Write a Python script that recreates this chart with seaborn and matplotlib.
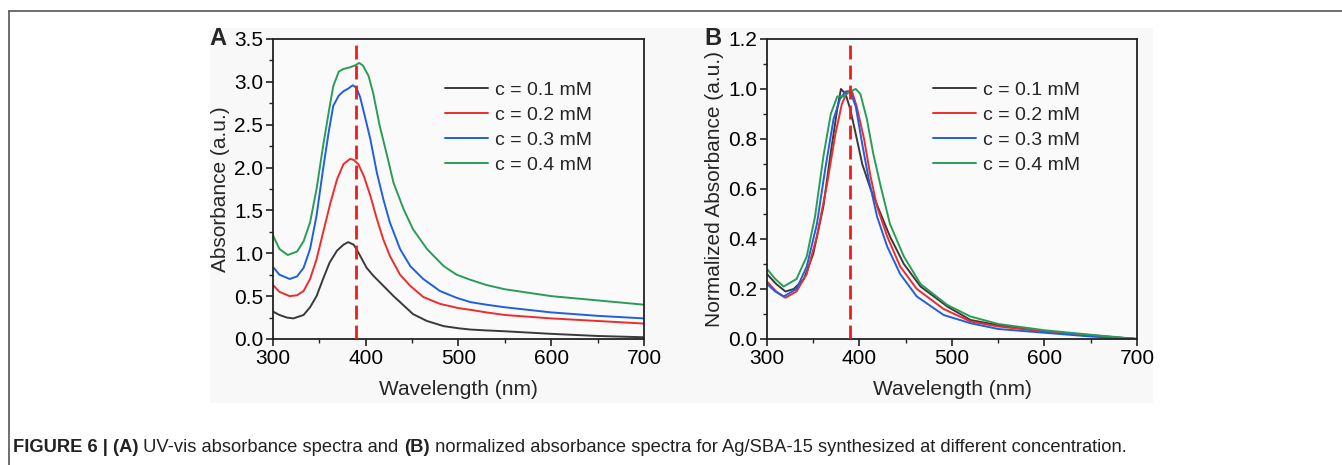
import numpy as np
import pandas as pd
import matplotlib
matplotlib.use("Agg")
import matplotlib.pyplot as plt
import seaborn as sns
from matplotlib.ticker import MultipleLocator, FormatStrFormatter
from matplotlib.patches import Rectangle
from matplotlib.lines import Line2D

# --- data ---
conc_labels = ["c = 0.1 mM", "c = 0.2 mM", "c = 0.3 mM", "c = 0.4 mM"]
colors = ["#3a3a3a", "#ee2c2c", "#1f5fe0", "#2a9d55"]
peak_line = 390

# panel A: absorbance
wl_01 = [300, 307, 315, 322, 333, 340, 347, 354, 361, 369, 376, 381, 387, 391, 396, 401, 408, 419, 430, 441, 451, 466, 484, 500, 513, 530, 550, 575, 600, 650, 700]
abs_01 = [0.32, 0.28, 0.25, 0.24, 0.28, 0.37, 0.50, 0.70, 0.89, 1.03, 1.10, 1.13, 1.10, 1.03, 0.93, 0.83, 0.74, 0.62, 0.50, 0.39, 0.29, 0.21, 0.15, 0.125, 0.11, 0.10, 0.09, 0.075, 0.06, 0.035, 0.02]
wl_02 = [300, 307, 318, 326, 333, 340, 347, 354, 362, 369, 376, 383, 387, 392, 398, 405, 412, 419, 426, 437, 448, 462, 480, 500, 513, 530, 550, 575, 600, 650, 700]
abs_02 = [0.63, 0.55, 0.50, 0.51, 0.56, 0.70, 0.93, 1.24, 1.59, 1.86, 2.04, 2.10, 2.09, 2.04, 1.90, 1.67, 1.40, 1.16, 0.97, 0.75, 0.62, 0.49, 0.41, 0.36, 0.34, 0.31, 0.28, 0.26, 0.24, 0.21, 0.18]
wl_03 = [300, 307, 318, 326, 333, 340, 347, 354, 360, 365, 371, 376, 381, 386, 390, 394, 399, 405, 412, 419, 426, 437, 448, 462, 480, 498, 513, 530, 550, 575, 600, 650, 700]
abs_03 = [0.84, 0.75, 0.70, 0.73, 0.83, 1.05, 1.44, 1.98, 2.41, 2.72, 2.84, 2.89, 2.92, 2.96, 2.93, 2.82, 2.60, 2.33, 1.94, 1.63, 1.36, 1.05, 0.85, 0.70, 0.56, 0.48, 0.43, 0.40, 0.37, 0.34, 0.31, 0.27, 0.24]
wl_04 = [300, 307, 316, 326, 333, 340, 347, 354, 360, 365, 371, 376, 383, 388, 393, 397, 403, 408, 415, 423, 430, 441, 451, 466, 484, 498, 513, 530, 550, 575, 600, 650, 700]
abs_04 = [1.21, 1.05, 0.98, 1.02, 1.14, 1.36, 1.75, 2.25, 2.64, 2.95, 3.12, 3.15, 3.17, 3.19, 3.22, 3.19, 3.07, 2.87, 2.49, 2.14, 1.82, 1.51, 1.28, 1.05, 0.85, 0.75, 0.69, 0.63, 0.58, 0.54, 0.50, 0.45, 0.40]

# panel B: normalized absorbance
nwl_01 = [300, 310, 320, 329, 340, 350, 361, 368, 376, 380, 385, 390, 396, 403, 412, 423, 433, 448, 466, 495, 520, 550, 600, 650, 700]
nabs_01 = [0.26, 0.22, 0.19, 0.20, 0.24, 0.34, 0.53, 0.72, 0.92, 1.00, 0.98, 0.92, 0.82, 0.70, 0.60, 0.50, 0.41, 0.30, 0.21, 0.13, 0.076, 0.055, 0.03, 0.015, 0.0]
nwl_02 = [300, 310, 320, 332, 343, 354, 365, 374, 381, 387, 392, 397, 405, 412, 419, 430, 444, 462, 491, 520, 550, 600, 650, 700]
nabs_02 = [0.23, 0.19, 0.165, 0.19, 0.26, 0.41, 0.62, 0.82, 0.94, 0.99, 0.99, 0.93, 0.80, 0.65, 0.53, 0.41, 0.29, 0.20, 0.12, 0.07, 0.05, 0.03, 0.012, 0.0]
nwl_03 = [300, 309, 318, 332, 343, 354, 363, 372, 379, 385, 390, 396, 403, 410, 419, 430, 444, 462, 491, 520, 550, 600, 650, 700]
nabs_03 = [0.22, 0.19, 0.17, 0.20, 0.29, 0.46, 0.68, 0.88, 0.96, 0.99, 0.99, 0.93, 0.78, 0.64, 0.49, 0.37, 0.26, 0.17, 0.096, 0.063, 0.04, 0.025, 0.01, 0.0]
nwl_04 = [300, 309, 318, 332, 343, 352, 361, 369, 376, 383, 390, 396, 401, 408, 415, 423, 433, 448, 466, 495, 520, 550, 600, 650, 700]
nabs_04 = [0.28, 0.24, 0.21, 0.24, 0.33, 0.49, 0.73, 0.90, 0.97, 0.97, 0.99, 1.00, 0.98, 0.88, 0.74, 0.61, 0.46, 0.33, 0.22, 0.136, 0.09, 0.06, 0.035, 0.017, 0.0]


def long_frame(pairs):
    rows = []
    for label, (x, y) in zip(conc_labels, pairs):
        rows.append(pd.DataFrame({"wl": x, "val": y, "conc": label}))
    return pd.concat(rows, ignore_index=True)


df_a = long_frame([(wl_01, abs_01), (wl_02, abs_02), (wl_03, abs_03), (wl_04, abs_04)])
df_b = long_frame([(nwl_01, nabs_01), (nwl_02, nabs_02), (nwl_03, nabs_03), (nwl_04, nabs_04)])

sns.set_style("white")
plt.rcParams["font.family"] = ["Liberation Sans", "DejaVu Sans"]

fig = plt.figure(figsize=(13.42, 4.65), dpi=100)
fig.patch.set_facecolor("white")

# grey panel behind the image, plus the page frame lines
fig.add_artist(Rectangle((0.1565, 0.1333), 0.7027, 0.8065, transform=fig.transFigure,
                         facecolor="#f8f8f8", edgecolor="none", zorder=0))
fig.add_artist(Line2D([9 / 1342, 1], [1 - 11 / 465, 1 - 11 / 465], transform=fig.transFigure,
                      color="#555555", lw=1.2))
fig.add_artist(Line2D([9 / 1342, 9 / 1342], [0, 1 - 11 / 465], transform=fig.transFigure,
                      color="#555555", lw=1.2))

ax_a = fig.add_axes([0.2034, 0.2710, 0.2765, 0.6452])
ax_b = fig.add_axes([0.5715, 0.2710, 0.2757, 0.6452])

panels = [
    (ax_a, df_a, "Absorbance (a.u.)", 3.5, 0.5, "A", 0.464),
    (ax_b, df_b, "Normalized Absorbance (a.u.)", 1.2, 0.2, "B", 0.449),
]

for ax, df, ylab, ymax, ystep, letter, leg_x in panels:
    ax.set_facecolor("#fafafa")
    sns.lineplot(data=df, x="wl", y="val", hue="conc", palette=colors, lw=1.4,
                 sort=False, estimator=None, ax=ax)
    ax.axvline(peak_line, color="#ee1c1c", lw=2, ls=(0, (5, 2.2)), zorder=5)
    ax.set_xlim(300, 700)
    ax.set_ylim(0, ymax)
    ax.xaxis.set_major_locator(MultipleLocator(100))
    ax.xaxis.set_minor_locator(MultipleLocator(50))
    ax.yaxis.set_major_locator(MultipleLocator(ystep))
    ax.yaxis.set_minor_locator(MultipleLocator(ystep / 2))
    ax.yaxis.set_major_formatter(FormatStrFormatter("%.1f"))
    ax.tick_params(which="major", direction="out", length=5, width=1.2, labelsize=15,
                   bottom=True, left=True, pad=2, colors="#222222", labelcolor="black")
    ax.tick_params(which="minor", direction="out", length=3, width=1.0,
                   bottom=True, left=True, colors="#222222")
    for sp in ax.spines.values():
        sp.set_visible(True)
        sp.set_color("#222222")
        sp.set_linewidth(1.3)
    ax.set_xlabel("Wavelength (nm)", fontsize=15, labelpad=9)
    ax.set_ylabel(ylab, fontsize=15, labelpad=3)
    leg = ax.legend(loc="upper left", frameon=False, fontsize=14, handlelength=2.2,
                    handletextpad=0.36, labelspacing=0.38, borderpad=0, borderaxespad=0,
                    bbox_to_anchor=(leg_x, 0.858))
    for h in leg.get_lines():
        h.set_linewidth(1.4)
    bb = ax.get_position()
    fig.text(bb.x0 - 0.047, bb.y1, letter, fontsize=17, fontweight="bold",
             ha="left", va="center")

# caption with mixed bold / regular runs
caption = [("FIGURE 6 | (A)", "bold"), (" UV-vis absorbance spectra and ", "normal"),
           ("(B)", "bold"),
           (" normalized absorbance spectra for Ag/SBA-15 synthesized at different concentration.", "normal")]
fig.canvas.draw()
renderer = fig.canvas.get_renderer()
x_px = 13
for txt, weight in caption:
    t = fig.text(x_px / 1342, 1 - 447 / 465, txt, fontsize=13.2, fontweight=weight,
                 ha="left", va="center", color="#222222")
    x_px += t.get_window_extent(renderer).width

fig.savefig("out.png", dpi=100)
